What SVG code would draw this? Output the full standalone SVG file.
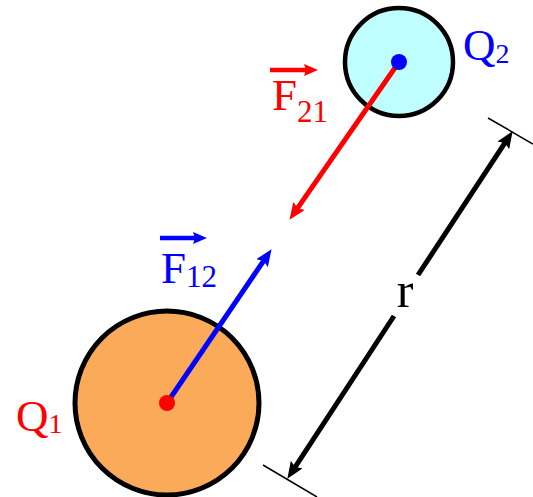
<svg xmlns="http://www.w3.org/2000/svg" width="533" height="497" viewBox="0 0 533 497">
<defs>
<style>
.lbl{font-family:"Liberation Serif","Times New Roman",serif;font-size:45px}
.qsub{font-size:28px}
.fsub{font-size:31px}
.red{fill:#ff0000}
.blue{fill:#0000ff}
.blk{fill:#000}
.shaft{fill:none;stroke-width:5;stroke-linecap:butt}
.vec{stroke-width:4.5}
.tick{stroke:#000;stroke-width:1.5}
</style>
<marker id="ahR" markerUnits="userSpaceOnUse" markerWidth="17" markerHeight="14" refX="8" refY="7" orient="auto"><path d="M0,0 L17,7 L0,14 L3,7 z" fill="#ff0000"/></marker>
<marker id="ahB" markerUnits="userSpaceOnUse" markerWidth="17" markerHeight="14" refX="8" refY="7" orient="auto"><path d="M0,0 L17,7 L0,14 L3,7 z" fill="#0000ff"/></marker>
<marker id="ahK" markerUnits="userSpaceOnUse" markerWidth="17" markerHeight="14" refX="8" refY="7" orient="auto"><path d="M0,0 L17,7 L0,14 L3,7 z" fill="#000"/></marker>
<marker id="vR" markerUnits="userSpaceOnUse" markerWidth="14" markerHeight="12" refX="5" refY="6" orient="auto"><path d="M0,0 L14,6 L0,12 L2,6 z" fill="#ff0000"/></marker>
<marker id="vB" markerUnits="userSpaceOnUse" markerWidth="14" markerHeight="12" refX="5" refY="6" orient="auto"><path d="M0,0 L14,6 L0,12 L2,6 z" fill="#0000ff"/></marker>
</defs>
<rect width="533" height="497" fill="#fff"/>

<g id="Q1">
<circle cx="167" cy="403" r="92" fill="#fbaa5a" stroke="#000" stroke-width="5"/>
<text class="lbl red" x="16" y="431">Q<tspan class="qsub" y="433">1</tspan></text>
</g>

<g id="Q2">
<circle cx="399" cy="62" r="54" fill="#c0ffff" stroke="#000" stroke-width="4.5"/>
<text class="lbl blue" x="463" y="60">Q<tspan class="qsub" y="63">2</tspan></text>
</g>

<g id="connectors">
<line class="shaft" x1="399" y1="62" x2="294.6" y2="212.4" stroke="#ff0000" marker-end="url(#ahR)"/>
<line class="shaft" x1="167" y1="403" x2="266.5" y2="256.6" stroke="#0000ff" marker-end="url(#ahB)"/>
<line class="shaft" x1="418" y1="275" x2="507.7" y2="138.7" stroke="#000" marker-end="url(#ahK)"/>
<line class="shaft" x1="394" y1="316" x2="292.3" y2="471.3" stroke="#000" marker-end="url(#ahK)"/>
<line class="tick" x1="488" y1="118" x2="533" y2="144"/>
<line class="tick" x1="263" y1="465" x2="317" y2="497"/>
</g>

<circle cx="399" cy="62" r="8" fill="#0000ff"/>
<circle cx="167" cy="403" r="8" fill="#ff0000"/>

<g id="F21">
<line class="vec" x1="270" y1="70" x2="309" y2="70" stroke="#ff0000" marker-end="url(#vR)"/>
<text class="lbl red" x="272" y="110">F<tspan class="fsub" y="122">21</tspan></text>
</g>

<g id="F12">
<line class="vec" x1="160" y1="238" x2="198" y2="238" stroke="#0000ff" marker-end="url(#vB)"/>
<text class="lbl blue" x="161" y="283">F<tspan class="fsub" y="287">12</tspan></text>
</g>

<text class="lbl blk" x="405" y="307" text-anchor="middle" style="font-size:50px">r</text>
</svg>
